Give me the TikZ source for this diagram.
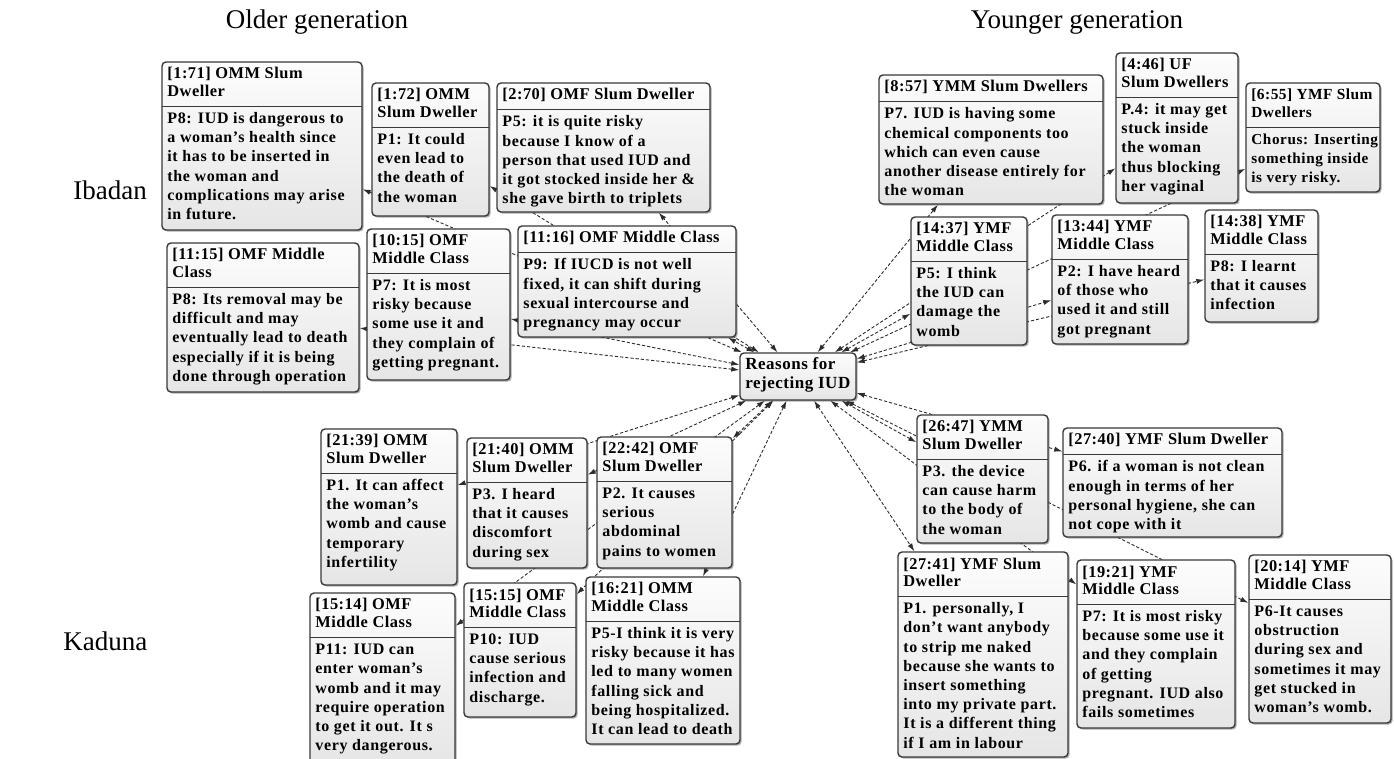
\documentclass[tikz,border=0pt]{standalone}
\usepackage{fontspec}
\setmainfont{Liberation Serif}
\newfontfamily\boxface[LetterSpace=4]{Liberation Serif}
\newfontfamily\capface[LetterSpace=3]{Liberation Serif}
\usetikzlibrary{arrows.meta,shadows,fit}
\pgfdeclarelayer{background}
\pgfsetlayers{background,main}

% text sizes of the quotation boxes (changed locally for tight boxes)
\def\bsz{8}
\def\hsz{8.2}
\newcommand\bodytext[1]{\parbox[t]{300pt}{\boxface\bfseries\fontsize{\bsz}{9.625}\selectfont #1}}
\newcommand\headtext[1]{\parbox[t]{300pt}{\capface\bfseries\fontsize{\hsz}{8.75}\selectfont #1}}
\newcommand\codetext[1]{\parbox[t]{300pt}{\capface\bfseries\fontsize{8.5}{9.5}\selectfont #1}}

\tikzset{
  qframe/.style={rectangle, rounded corners=2pt, draw=gray!45!black, line width=0.7pt,
    top color=gray!2, bottom color=gray!20, inner sep=0pt,
    drop shadow={shadow xshift=0.8pt, shadow yshift=-0.8pt, opacity=0.45, fill=gray!60!black}},
  qrule/.style={draw=gray!45!black, line width=0.5pt},
  qtxt/.style={inner sep=0pt, anchor=base west},
  link/.style={draw=gray!35!black, line width=0.45pt, dash pattern=on 1.6pt off 1pt,
    >={Latex[length=4pt,width=2.6pt]}, <->},
  place/.style={inner sep=0pt, font=\fontsize{13.5}{16}\selectfont},
}

% quotation box: name, left, top, right, bottom, header lines, header, body
\newcommand\qbox[8]{%
  \pgfmathsetmacro\qdiv{#3+27+17.5*(#6-1)}%
  \node[qframe, fit={(#2,#3) (#4,#5)}] (#1) {};
  \draw[qrule] (#2,\qdiv) -- (#4,\qdiv);
  \node[qtxt] (#1-h) at (#2+5,#3+17) {\headtext{#7}};
  \node[qtxt] (#1-b) at (#2+5,\qdiv+17) {\bodytext{#8}};
}

\begin{document}
\begin{tikzpicture}[x=0.5pt,y=-0.5pt]
\useasboundingbox (0,0) rectangle (1394,759);
\begin{pgfonlayer}{background}
  \fill[white] (0,0) rectangle (1394,759);
\end{pgfonlayer}

% column and row labels
\node[place] (older) at (317,22) {Older generation};
\node[place] (younger) at (1077,22) {Younger generation};
\node[place, anchor=west] (ibadan) at (73,190) {Ibadan};
\node[place, anchor=west] (kaduna) at (63,641) {Kaduna};

% the code
\node[qframe, fit={(740,353) (856,400)}] (ctr) {};
\node[qtxt] (ctr-t) at (745,370) {\codetext{Reasons for\\rejecting IUD}};

% older generation, Ibadan
\qbox{q171}{162}{62}{362}{230}{2}{[1:71] OMM Slum\\Dweller}{P8: IUD is dangerous to\\a woman’s health since\\it has to be inserted in\\the woman and\\complications may arise\\in future.}
\qbox{q172}{372}{83}{489}{216}{2}{[1:72] OMM\\Slum Dweller}{P1: It could\\even lead to\\the death of\\the woman}
\qbox{q270}{497}{83}{710}{212}{1}{[2:70] OMF Slum Dweller}{P5: it is quite risky\\because I know of a\\person that used IUD and\\it got stocked inside her \&\\she gave birth to triplets}
\qbox{q1115}{167}{243}{359}{392}{2}{[11:15] OMF Middle\\Class}{P8: Its removal may be\\difficult and may\\eventually lead to death\\especially if it is being\\done through operation}
\qbox{q1015}{367}{229}{510}{380}{2}{[10:15] OMF\\Middle Class}{P7: It is most\\risky because\\some use it and\\they complain of\\getting pregnant.}
\qbox{q1116}{518}{226}{736}{337}{1}{[11:16] OMF Middle Class}{P9: If IUCD is not well\\fixed, it can shift during\\sexual intercourse and\\pregnancy may occur}

% younger generation, Ibadan
\qbox{q857}{879}{75}{1103}{204}{1}{[8:57] YMM Slum Dwellers}{P7. IUD is having some\\chemical components too\\which can even cause\\another disease entirely for\\the woman}
\qbox{q446}{1116}{53}{1238}{203}{2}{[4:46] UF\\Slum Dwellers}{P.4: it may get\\stuck inside\\the woman\\thus blocking\\her vaginal}
{\def\bsz{7.6}\def\hsz{7.7}
\qbox{q655}{1246}{83}{1380}{192}{2}{[6:55] YMF Slum\\Dwellers}{Chorus: Inserting\\something inside\\is very risky.}}
\qbox{q1437}{911}{217}{1027}{345}{2}{[14:37] YMF\\Middle Class}{P5: I think\\the IUD can\\damage the\\womb}
\qbox{q1344}{1052}{215}{1188}{344}{2}{[13:44] YMF\\Middle Class}{P2: I have heard\\of those who\\used it and still\\got pregnant}
\qbox{q1438}{1205}{210}{1318}{322}{2}{[14:38] YMF\\Middle Class}{P8: I learnt\\that it causes\\infection}

% younger generation, Kaduna
\qbox{q2647}{917}{415}{1048}{543}{2}{[26:47] YMM\\Slum Dweller}{P3. the device\\can cause harm\\to the body of\\the woman}
\qbox{q2740}{1063}{428}{1282}{537}{1}{[27:40] YMF Slum Dweller}{P6. if a woman is not clean\\enough in terms of her\\personal hygiene, she can\\not cope with it}
\qbox{q2741}{898}{552}{1068}{757}{2}{[27:41] YMF Slum\\Dweller}{P1. personally, I\\don’t want anybody\\to strip me naked\\because she wants to\\insert something\\into my private part.\\It is a different thing\\if I am in labour}
\qbox{q1921}{1077}{560}{1235}{728}{2}{[19:21] YMF\\Middle Class}{P7: It is most risky\\because some use it\\and they complain\\of getting\\pregnant. IUD also\\fails sometimes}
\qbox{q2014}{1249}{555}{1391}{723}{2}{[20:14] YMF\\Middle Class}{P6-It causes\\obstruction\\during sex and\\sometimes it may\\get stucked in\\woman’s womb.}

% older generation, Kaduna
\qbox{q2139}{321}{429}{457}{585}{2}{[21:39] OMM\\Slum Dweller}{P1. It can affect\\the woman’s\\womb and cause\\temporary\\infertility}
\qbox{q2140}{467}{438}{587}{568}{2}{[21:40] OMM\\Slum Dweller}{P3. I heard\\that it causes\\discomfort\\during sex}
\qbox{q2242}{597}{437}{732}{568}{2}{[22:42] OMF\\Slum Dweller}{P2. It causes\\serious\\abdominal\\pains to women}
\qbox{q1515}{464}{583}{576}{717}{2}{[15:15] OMF\\Middle Class}{P10: IUD\\cause serious\\infection and\\discharge.}
\qbox{q1514}{310}{593}{455}{765}{2}{[15:14] OMF\\Middle Class}{P11: IUD can\\enter woman’s\\womb and it may\\require operation\\to get it out. It s\\very dangerous.}
\qbox{q1621}{586}{577}{740}{744}{2}{[16:21] OMM\\Middle Class}{P5-I think it is very\\risky because it has\\led to many women\\falling sick and\\being hospitalized.\\It can lead to death}

% links between the code and every quotation, under the boxes
\begin{pgfonlayer}{background}
\foreach \q in {q171,q172,q270,q1115,q1015,q1116,q857,q446,q655,q1437,q1344,q1438,
                q2647,q2740,q2741,q1921,q2014,q2139,q2140,q2242,q1515,q1514,q1621}
  \draw[link] (ctr) -- (\q);
\end{pgfonlayer}
\end{tikzpicture}
\end{document}
